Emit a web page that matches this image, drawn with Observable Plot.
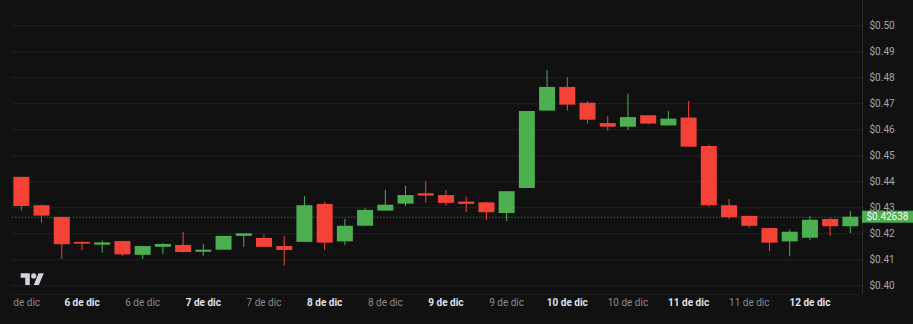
<!DOCTYPE html>
<html>
<head>
<meta charset="utf-8">
<script src="https://cdn.jsdelivr.net/npm/d3@7"></script>
<script src="https://cdn.jsdelivr.net/npm/@observablehq/plot@0.6"></script>
<style>
  html, body { margin: 0; padding: 0; background: #111111; }
  #chart { width: 913px; height: 324px; }
</style>
</head>
<body>
<div id="chart"></div>
<script>
// 4-hour candles
const times = [
  "2024-12-05T12:00Z","2024-12-05T16:00Z","2024-12-05T20:00Z",
  "2024-12-06T00:00Z","2024-12-06T04:00Z","2024-12-06T08:00Z","2024-12-06T12:00Z","2024-12-06T16:00Z","2024-12-06T20:00Z",
  "2024-12-07T00:00Z","2024-12-07T04:00Z","2024-12-07T08:00Z","2024-12-07T12:00Z","2024-12-07T16:00Z","2024-12-07T20:00Z",
  "2024-12-08T00:00Z","2024-12-08T04:00Z","2024-12-08T08:00Z","2024-12-08T12:00Z","2024-12-08T16:00Z","2024-12-08T20:00Z",
  "2024-12-09T00:00Z","2024-12-09T04:00Z","2024-12-09T08:00Z","2024-12-09T12:00Z","2024-12-09T16:00Z","2024-12-09T20:00Z",
  "2024-12-10T00:00Z","2024-12-10T04:00Z","2024-12-10T08:00Z","2024-12-10T12:00Z","2024-12-10T16:00Z","2024-12-10T20:00Z",
  "2024-12-11T00:00Z","2024-12-11T04:00Z","2024-12-11T08:00Z","2024-12-11T12:00Z","2024-12-11T16:00Z","2024-12-11T20:00Z",
  "2024-12-12T00:00Z","2024-12-12T04:00Z","2024-12-12T08:00Z"
];
const open = [
  0.4417,0.4308,0.4263,
  0.4167,0.4156,0.4170,0.4117,0.4148,0.4155,
  0.4129,0.4137,0.4190,0.4182,0.4151,0.4167,
  0.4313,0.4169,0.4229,0.4287,0.4314,0.4354,
  0.4347,0.4322,0.4319,0.4278,0.4374,0.4672,
  0.4763,0.4702,0.4624,0.4610,0.4654,0.4615,
  0.4645,0.4536,0.4308,0.4267,0.4220,0.4169,
  0.4183,0.4255,0.4227
];
const high = [
  0.4418,0.4310,0.4264,
  0.4169,0.4172,0.4171,0.4151,0.4161,0.4205,
  0.4158,0.4190,0.4200,0.4195,0.4190,0.4343,
  0.4320,0.4255,0.4298,0.4367,0.4382,0.4401,
  0.4367,0.4341,0.4321,0.4362,0.4670,0.4828,
  0.4801,0.4708,0.4651,0.4737,0.4655,0.4670,
  0.4709,0.4541,0.4332,0.4268,0.4221,0.4215,
  0.4267,0.4260,0.4286
];
const low = [
  0.4287,0.4241,0.4102,
  0.4135,0.4125,0.4113,0.4101,0.4120,0.4126,
  0.4113,0.4137,0.4148,0.4148,0.4075,0.4167,
  0.4136,0.4155,0.4229,0.4287,0.4305,0.4319,
  0.4306,0.4282,0.4251,0.4247,0.4374,0.4672,
  0.4672,0.4622,0.4595,0.4598,0.4619,0.4615,
  0.4533,0.4302,0.4255,0.4222,0.4132,0.4112,
  0.4174,0.4191,0.4201
];
const close = [
  0.4305,0.4268,0.4158,
  0.4160,0.4165,0.4119,0.4151,0.4159,0.4128,
  0.4137,0.4190,0.4200,0.4148,0.4136,0.4308,
  0.4164,0.4229,0.4290,0.4310,0.4347,0.4345,
  0.4317,0.4313,0.4281,0.4362,0.4670,0.4763,
  0.4695,0.4637,0.4610,0.4647,0.4622,0.4641,
  0.4533,0.4308,0.4262,0.4229,0.4164,0.4206,
  0.4252,0.4227,0.42638
];

// y ticks (price axis)
const yTicks = [0.40,0.41,0.42,0.43,0.44,0.45,0.46,0.47,0.48,0.49,0.50];
// time axis ticks
const xTickTimes = [
  "2024-12-05T12:00Z","2024-12-06T00:00Z","2024-12-06T12:00Z","2024-12-07T00:00Z","2024-12-07T12:00Z",
  "2024-12-08T00:00Z","2024-12-08T12:00Z","2024-12-09T00:00Z","2024-12-09T12:00Z","2024-12-10T00:00Z",
  "2024-12-10T12:00Z","2024-12-11T00:00Z","2024-12-11T12:00Z","2024-12-12T00:00Z"
];
const xTickLabels = [
  "de dic","6 de dic","6 de dic","7 de dic","7 de dic","8 de dic","8 de dic","9 de dic","9 de dic",
  "10 de dic","10 de dic","11 de dic","11 de dic","12 de dic"
];
const xTickMajor = [false,true,false,true,false,true,false,true,false,true,false,true,false,true];

const lastPriceLabel = "$0.42638";

const GREEN = "#4caf50", RED = "#f44336";
const data = times.map((t, i) => ({
  date: new Date(t), open: open[i], high: high[i], low: low[i], close: close[i],
  color: close[i] >= open[i] ? GREEN : RED
}));
const ticks = xTickTimes.map((t, i) => ({date: new Date(t), label: xTickLabels[i], major: xTickMajor[i]}));
const lastClose = close[close.length - 1];

const xDomain = [new Date("2024-12-05T10:15Z"), new Date("2024-12-12T10:24Z")];
const yDomain = [0.39665, 0.50973];

const chart = Plot.plot({
  width: 913,
  height: 324,
  marginLeft: 12,
  marginRight: 51,
  marginTop: 0,
  marginBottom: 30,
  style: {background: "#111111", fontFamily: "Roboto, 'Noto Sans', sans-serif", fontSize: "10px"},
  x: {type: "utc", domain: xDomain, axis: null},
  y: {domain: yDomain},
  color: {type: "identity"},
  marks: [
    Plot.ruleY(yTicks, {stroke: "#232323", strokeWidth: 1}),
    Plot.ruleY([yDomain[0]], {stroke: "#1c1c1c"}),
    Plot.ruleX([xDomain[1]], {stroke: "#2a2a2a"}),
    Plot.ruleY([lastClose], {stroke: GREEN, strokeOpacity: 0.75, strokeDasharray: "1.2,2"}),
    Plot.ruleX(data, {x: "date", y1: "low", y2: "high", stroke: "color", strokeWidth: 1}),
    Plot.ruleX(data, {x: "date", y1: "open", y2: "close", stroke: "color", strokeWidth: 16}),
    Plot.axisY(yTicks, {
      anchor: "right", tickSize: 0, tickPadding: 7, label: null,
      tickFormat: d => "$" + d.toFixed(2), fill: "#a5a8b0", fontSize: 10
    }),
    Plot.text(ticks.slice(0, 1), {
      x: "date", text: "label", frameAnchor: "bottom", dy: 11, textAnchor: "start", dx: -8,
      fill: "#8c8c8c", fontSize: 10
    }),
    Plot.text(ticks.slice(1).filter(d => !d.major), {
      x: "date", text: "label", frameAnchor: "bottom", dy: 11,
      fill: "#8c8c8c", fontSize: 10
    }),
    Plot.text(ticks.filter(d => d.major), {
      x: "date", text: "label", frameAnchor: "bottom", dy: 11,
      fill: "#e0e3ea", fontSize: 10, fontWeight: "bold"
    })
  ]
});

document.getElementById("chart").appendChild(chart);

// last-price badge on the price scale
const svg = d3.select(chart);
const yPix = chart.scale("y").apply(lastClose);
const xRight = 913 - 51;
const badge = svg.append("g");
badge.append("rect")
  .attr("x", xRight).attr("y", yPix - 6).attr("width", 51).attr("height", 12)
  .attr("fill", GREEN);
badge.append("text")
  .attr("x", xRight + 25.5).attr("y", yPix).attr("dy", "0.35em")
  .attr("text-anchor", "middle").attr("fill", "#ffffff")
  .attr("font-family", "Roboto, 'Noto Sans', sans-serif").attr("font-size", 10)
  .text(lastPriceLabel);

// TradingView logo watermark
const logo = svg.append("g")
  .attr("transform", "translate(20.7,270.7) scale(0.65)")
  .attr("fill", "#d1d4dc");
logo.append("path").attr("d", "M14 22H7V11H0V4h14v18zM28 22h-8l7.5-18h8L28 22z");
logo.append("circle").attr("cx", 20).attr("cy", 8).attr("r", 4);
</script>
</body>
</html>
